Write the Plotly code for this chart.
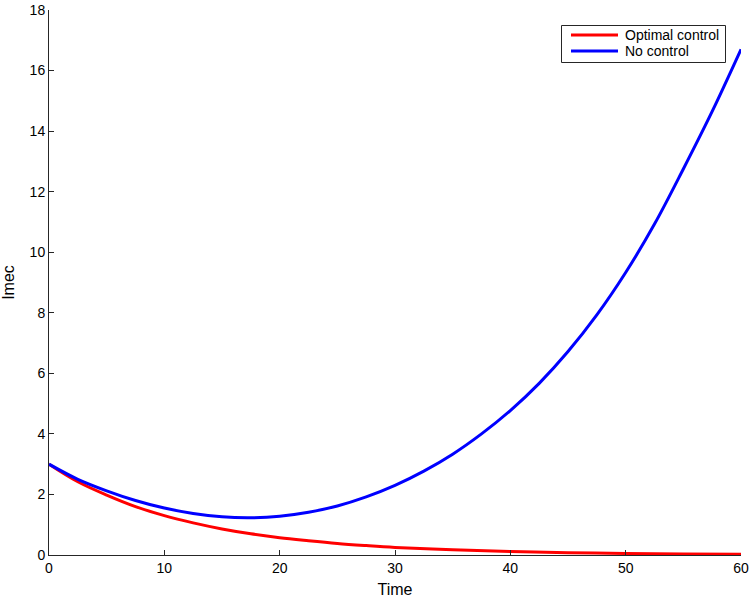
import plotly.graph_objects as go

series_names = ["Optimal control", "No control"]
series_colors = ["#ff0000", "#0000ff"]

time_blue = [0, 2.5, 5, 7.5, 10, 12.5, 15, 17.5, 20, 22.5, 25, 27.5, 30, 32.5, 35,
             37.5, 40, 42.5, 45, 47.5, 50, 52.5, 55, 57.5, 60]
no_control = [3.0, 2.5, 2.12, 1.8, 1.55, 1.37, 1.26, 1.23, 1.28, 1.41, 1.62, 1.92, 2.3,
              2.77, 3.33, 4.0, 4.77, 5.67, 6.72, 7.93, 9.33, 10.93, 12.75, 14.65, 16.7]

time_red = [0, 2.5, 5, 7.5, 10, 12.5, 15, 17.5, 20, 22.5, 25, 27.5, 30, 35, 40, 45, 50, 55, 60]
optimal_control = [3.0, 2.42, 1.98, 1.6, 1.3, 1.06, 0.86, 0.7, 0.57, 0.47, 0.38, 0.31, 0.25,
                   0.17, 0.115, 0.078, 0.053, 0.036, 0.025]

x_ticks = [0, 10, 20, 30, 40, 50, 60]
y_ticks = [0, 2, 4, 6, 8, 10, 12, 14, 16, 18]

# plot-area geometry (pixels) used to place the hand-drawn legend
W, H = 750, 599
ML, MR, MT, MB = 49, 9, 10, 44
PW, PH = W - ML - MR, H - MT - MB


def px_x(p):
    return (p - ML) / PW


def px_y(p):
    return (H - MB - p) / PH


fig = go.Figure()
fig.add_trace(go.Scatter(x=time_red, y=optimal_control, mode="lines", name=series_names[0],
                         line=dict(color=series_colors[0], width=3, shape="spline", smoothing=1.0),
                         showlegend=False))
fig.add_trace(go.Scatter(x=time_blue, y=no_control, mode="lines", name=series_names[1],
                         line=dict(color=series_colors[1], width=3, shape="spline", smoothing=1.0),
                         showlegend=False))

axis_common = dict(showgrid=False, zeroline=False, showline=True, linecolor="#262626",
                   linewidth=1, ticks="inside", ticklen=5, tickcolor="#262626",
                   tickfont=dict(family="Liberation Sans, Arial", size=14, color="#000000"),
                   mirror=False, automargin=False)

shapes = [dict(type="rect", xref="paper", yref="paper",
               x0=px_x(561.5), x1=px_x(725.5), y0=px_y(62.5), y1=px_y(25.5),
               line=dict(color="#262626", width=1), fillcolor="white", layer="above")]
annotations = []
legend_rows = [35, 51]
for name, color, row in zip(series_names, series_colors, legend_rows):
    shapes.append(dict(type="line", xref="paper", yref="paper",
                       x0=px_x(571), x1=px_x(618), y0=px_y(row), y1=px_y(row),
                       line=dict(color=color, width=3), layer="above"))
    annotations.append(dict(text=name, xref="paper", yref="paper", x=px_x(623), y=px_y(row),
                            xanchor="left", yanchor="middle", showarrow=False,
                            font=dict(family="Liberation Sans, Arial", size=14, color="#000000")))

fig.update_layout(
    width=W, height=H,
    margin=dict(l=ML, r=MR, t=MT, b=MB),
    paper_bgcolor="white", plot_bgcolor="white",
    font=dict(family="Liberation Sans, Arial", color="#000000"),
    xaxis=dict(range=[0, 60], tickvals=x_ticks,
               title=dict(text="Time", font=dict(size=16), standoff=9), **axis_common),
    yaxis=dict(range=[0, 18], tickvals=y_ticks,
               title=dict(text="Imec", font=dict(size=16), standoff=11), **axis_common),
    shapes=shapes,
    annotations=annotations,
    showlegend=False,
)

fig.write_html("out.html", config={"displayModeBar": False},
               post_script="document.body.style.margin='0';")
